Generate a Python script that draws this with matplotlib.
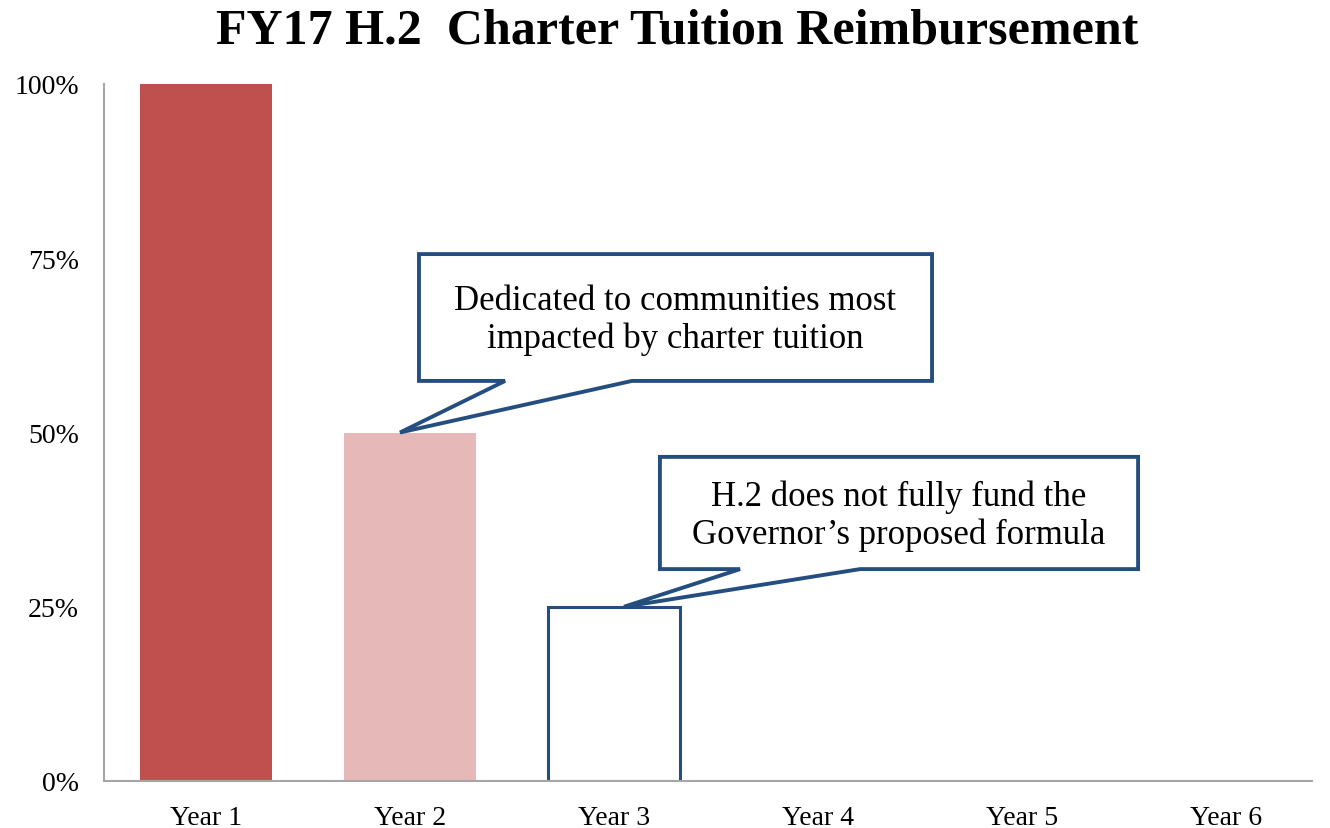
import matplotlib
matplotlib.use("Agg")
import matplotlib.pyplot as plt
from matplotlib.patches import Polygon
from matplotlib.ticker import FuncFormatter

categories = ["Year 1", "Year 2", "Year 3", "Year 4", "Year 5", "Year 6"]
values = [100, 50, 25, 0, 0, 0]
yticks = [0, 25, 50, 75, 100]

callout_texts = [
    "Dedicated to communities most\nimpacted by charter tuition",
    "H.2 does not fully fund the\nGovernor\u2019s proposed formula",
]

plt.rcParams["font.family"] = ["Liberation Serif", "DejaVu Serif"]

RED = "#C0504D"
PINK = "#E6B9B8"
NAVY = "#254E80"
GRAY = "#A6A6A6"

fig = plt.figure(figsize=(13.30, 8.29), dpi=100)
ax = fig.add_axes([104 / 1330, 1 - 782 / 829, 1224 / 1330, 697 / 829])

x = list(range(len(categories)))
width = 0.647
fills = [RED, PINK, "white", "none", "none", "none"]
edges = ["none", "none", NAVY, "none", "none", "none"]
lws = [0, 0, 2.2, 0, 0, 0]
for xi, v, fc, ec, lw in zip(x, values, fills, edges, lws):
    if v > 0:
        ax.bar(xi, v, width=width, color=fc, edgecolor=ec, linewidth=lw, zorder=2)

ax.set_xlim(-0.5, len(categories) - 0.5)
ax.set_ylim(0, 100)
ax.set_yticks(yticks)
ax.yaxis.set_major_formatter(FuncFormatter(lambda v, p: f"{int(v)}%"))
ax.set_xticks(x)
ax.set_xticklabels(categories)
ax.tick_params(axis="both", length=0, labelsize=20, colors="black")
ax.tick_params(axis="y", pad=18)
ax.tick_params(axis="x", pad=17)
for s in ["top", "right"]:
    ax.spines[s].set_visible(False)
for s in ["left", "bottom"]:
    ax.spines[s].set_color(GRAY)
    ax.spines[s].set_linewidth(1.5)
ax.spines["bottom"].set_bounds(-0.5, 5.42)


def callout(box, base, tip, text):
    x0, x1, y0, y1 = box
    pts = [(x0, y1), (x1, y1), (x1, y0), (base[1], y0), tip, (base[0], y0), (x0, y0)]
    poly = Polygon(pts, closed=True, facecolor="white", edgecolor=NAVY,
                   linewidth=2.8, joinstyle="miter", zorder=5, clip_on=False)
    ax.add_patch(poly)
    ax.text((x0 + x1) / 2, (y0 + y1) / 2 - 0.3, text, ha="center", va="center",
            fontsize=25, linespacing=1.17, zorder=6)


callout((1.044, 3.559, 57.4, 75.6), (1.466, 2.088), (0.951, values[1]), callout_texts[0])
callout((2.225, 4.569, 30.4, 46.5), (2.618, 3.206), (2.049, values[2]), callout_texts[1])

fig.text(677 / 1330, 1 - 31 / 829, "FY17 H.2  Charter Tuition Reimbursement",
         ha="center", va="center", fontsize=36, fontweight="bold")

fig.savefig("out.png", dpi=100, facecolor="white")
